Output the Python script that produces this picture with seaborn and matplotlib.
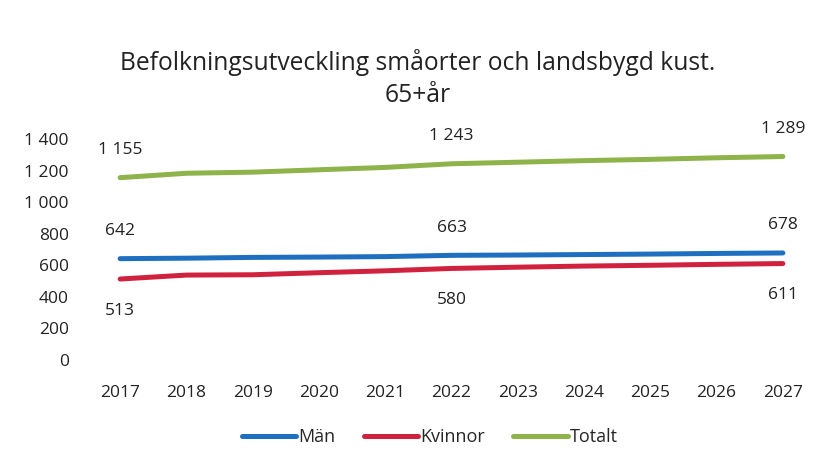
import matplotlib
matplotlib.use("Agg")
import matplotlib.pyplot as plt
import pandas as pd
import seaborn as sns

years = [2017, 2018, 2019, 2020, 2021, 2022, 2023, 2024, 2025, 2026, 2027]
man = [642, 645, 650, 652, 655, 663, 665, 668, 671, 675, 678]
kvinnor = [513, 538, 540, 553, 565, 580, 588, 595, 600, 606, 611]
totalt = [1155, 1183, 1190, 1205, 1220, 1243, 1253, 1263, 1271, 1281, 1289]
series_names = ["Män", "Kvinnor", "Totalt"]
colors = ["#1f6fc0", "#d0223f", "#8db34a"]
label_years = [2017, 2022, 2027]


def fmt(v):
    return f"{v:,}".replace(",", " ")


if __name__ == "__main__":
    sns.set_theme(style="white")
    plt.rcParams["font.family"] = ["Open Sans", "DejaVu Sans"]

    df = pd.DataFrame({
        "year": years * 3,
        "value": man + kvinnor + totalt,
        "serie": ["Män"] * len(years) + ["Kvinnor"] * len(years) + ["Totalt"] * len(years),
    })

    fig = plt.figure(figsize=(8.36, 4.61), dpi=100)
    ax = fig.add_axes([87 / 836, 101 / 461, 729 / 836, 221 / 461])
    sns.lineplot(data=df, x="year", y="value", hue="serie", hue_order=series_names,
                 palette=colors, linewidth=3.6, ax=ax)

    ax.set_xlim(2016.5, 2027.5)
    ax.set_ylim(0, 1400)
    ax.set_xticks(years)
    ax.set_yticks(range(0, 1401, 200))
    ax.set_yticklabels([fmt(v) for v in range(0, 1401, 200)])
    ax.tick_params(axis="both", labelsize=12.5, colors="#222222", length=0)
    ax.tick_params(axis="y", pad=13)
    ax.tick_params(axis="x", pad=18)
    ax.set_xlabel("")
    ax.set_ylabel("")
    sns.despine(ax=ax, left=True, bottom=True)

    # data labels
    for vals, off in [(man, 20), (totalt, 20), (kvinnor, -23)]:
        for y in label_years:
            v = vals[years.index(y)]
            ax.annotate(fmt(v), (y, v), xytext=(0, off), textcoords="offset points",
                        ha="center", va="center", fontsize=12.5, color="#222222")

    fig.text(0.5, 0.865, "Befolkningsutveckling småorter och landsbygd kust.",
             ha="center", va="center", fontsize=17.7, color="#222222")
    fig.text(0.5, 0.793, "65+år", ha="center", va="center", fontsize=17.7, color="#222222")

    ax.legend(loc="center", bbox_to_anchor=(0.47, -0.35), ncol=3, frameon=False,
              fontsize=13, handlelength=3.0, handletextpad=0.1, columnspacing=1.6)
    fig.savefig("out.png", dpi=100, facecolor="white")
